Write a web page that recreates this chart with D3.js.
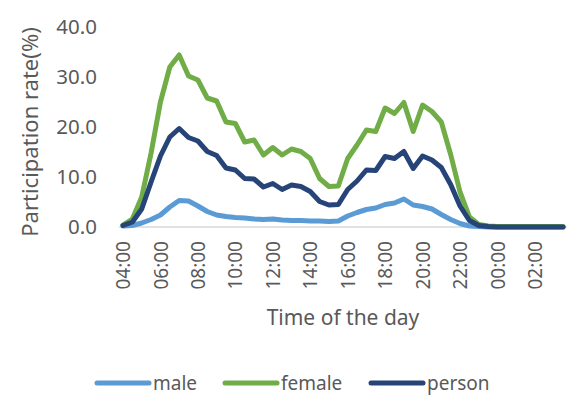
<!DOCTYPE html>
<html>
<head>
<meta charset="utf-8">
<script src="https://cdn.jsdelivr.net/npm/d3@7"></script>
<style>
  body { margin: 0; background: #fff; }
  text { font-family: "Noto Sans", sans-serif; fill: #595959; }
</style>
</head>
<body>
<div id="chart"></div>
<script>
let times = ['04:00','04:30','05:00','05:30','06:00','06:30','07:00','07:30','08:00','08:30','09:00','09:30',
    '10:00','10:30','11:00','11:30','12:00','12:30','13:00','13:30','14:00','14:30','15:00','15:30',
    '16:00','16:30','17:00','17:30','18:00','18:30','19:00','19:30','20:00','20:30','21:00','21:30',
    '22:00','22:30','23:00','23:30','00:00','00:30','01:00','01:30','02:00','02:30','03:00','03:30'];

let male = [0.2, 0.3, 0.8, 1.5, 2.4, 4.0, 5.3, 5.2, 4.2, 3.1, 2.4, 2.1,
    1.9, 1.8, 1.6, 1.5, 1.6, 1.4, 1.3, 1.3, 1.2, 1.2, 1.1, 1.2,
    2.2, 2.9, 3.5, 3.8, 4.5, 4.8, 5.6, 4.4, 4.1, 3.6, 2.5, 1.5,
    0.7, 0.2, 0.1, 0.0, 0.0, 0.0, 0.0, 0.0, 0.0, 0.0, 0.0, 0.0];

let female = [0.4, 1.6, 6.0, 14.8, 25.0, 32.0, 34.4, 30.2, 29.4, 25.8, 25.2, 21.0,
    20.7, 17.0, 17.4, 14.4, 15.9, 14.4, 15.6, 15.1, 13.7, 9.7, 8.1, 8.2,
    13.7, 16.4, 19.4, 19.1, 23.8, 22.7, 24.9, 19.1, 24.4, 23.1, 21.0, 14.5,
    7.0, 2.0, 0.5, 0.2, 0.1, 0.1, 0.1, 0.1, 0.1, 0.1, 0.1, 0.1];

let person = [0.3, 1.0, 3.6, 9.0, 14.2, 18.0, 19.7, 17.9, 17.2, 15.1, 14.3, 11.8,
    11.4, 9.7, 9.6, 8.0, 8.7, 7.5, 8.4, 8.1, 7.1, 5.1, 4.4, 4.5,
    7.5, 9.2, 11.4, 11.3, 14.1, 13.7, 15.1, 11.7, 14.2, 13.4, 11.9, 8.5,
    4.2, 1.3, 0.3, 0.1, 0.0, 0.0, 0.0, 0.0, 0.0, 0.0, 0.0, 0.0];

let yTicks = [0, 10, 20, 30, 40];
let tickTimes = times.filter((d, i) => i % 4 === 0);

let series = [
    {name: 'male', values: male, color: '#5b9bd5'},
    {name: 'female', values: female, color: '#70ad47'},
    {name: 'person', values: person, color: '#264478'}
];

let width = 571;
let height = 398;

let svg = d3.select('#chart')
    .append('svg')
    .attr('width', width)
    .attr('height', height);

let x = d3.scalePoint()
    .domain(times)
    .range([123, 563]);

let y = d3.scaleLinear()
    .domain([0, 40])
    .range([227, 27]);

// baseline
svg.append('line')
    .attr('x1', 119).attr('x2', 567)
    .attr('y1', y(0)).attr('y2', y(0))
    .attr('stroke', '#d9d9d9')
    .attr('stroke-width', 1.5);

// y axis labels
let yAxis = svg.append('g')
    .attr('transform', 'translate(99,0)')
    .call(d3.axisLeft(y).tickValues(yTicks).tickFormat(d3.format('.1f')).tickSize(0).tickPadding(2));
yAxis.select('.domain').remove();
yAxis.selectAll('text')
    .style('font-size', '20.5px')
    .style('font-family', '"Noto Sans", sans-serif')
    .attr('fill', '#595959');

// x axis labels
let xAxis = svg.append('g')
    .attr('transform', `translate(0, 241)`)
    .call(d3.axisBottom(x).tickValues(tickTimes).tickSize(0).tickPadding(0));
xAxis.select('.domain').remove();
xAxis.selectAll('text')
    .attr('transform', 'rotate(-90)')
    .attr('x', 0)
    .attr('y', 0)
    .attr('dy', '0.35em')
    .style('text-anchor', 'end')
    .style('font-size', '19px')
    .style('font-family', '"Noto Sans", sans-serif')
    .attr('fill', '#595959');

// axis titles
svg.append('text')
    .attr('transform', `translate(38, 132) rotate(-90)`)
    .attr('text-anchor', 'middle')
    .style('font-size', '22px')
    .text('Participation rate(%)');

svg.append('text')
    .attr('x', 343)
    .attr('y', 325)
    .attr('text-anchor', 'middle')
    .style('font-size', '21px')
    .text('Time of the day');

// lines
let line = d3.line()
    .x((d, i) => x(times[i]))
    .y(d => y(d));

svg.selectAll('.series')
    .data(series)
    .enter()
    .append('path')
        .attr('class', 'series')
        .attr('d', d => line(d.values))
        .attr('fill', 'none')
        .attr('stroke', d => d.color)
        .attr('stroke-width', 5)
        .attr('stroke-linejoin', 'round')
        .attr('stroke-linecap', 'round');

// legend
let legendX = [97, 225, 371];
let legend = svg.selectAll('.legend')
    .data(series)
    .enter()
    .append('g')
        .attr('class', 'legend')
        .attr('transform', (d, i) => `translate(${legendX[i]}, 383)`);

legend.append('line')
    .attr('x1', 0).attr('x2', 52)
    .attr('y1', 0).attr('y2', 0)
    .attr('stroke', d => d.color)
    .attr('stroke-width', 5)
    .attr('stroke-linecap', 'round');

legend.append('text')
    .attr('x', 56)
    .attr('y', 0)
    .attr('dy', '0.35em')
    .style('font-size', '19px')
    .text(d => d.name);
</script>
</body>
</html>
